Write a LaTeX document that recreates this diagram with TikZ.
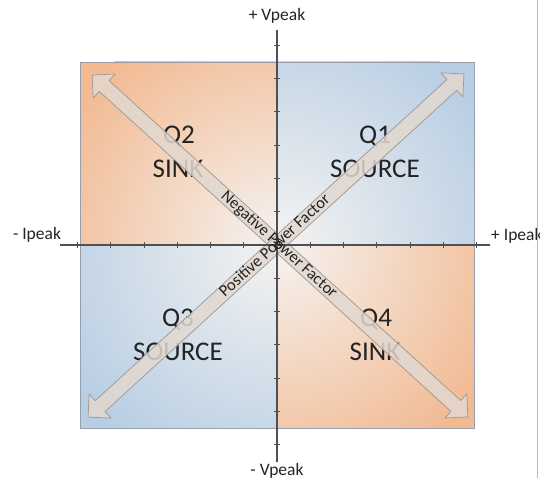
\documentclass[tikz,border=0pt]{standalone}
\usepackage{fontspec}
\setmainfont{Carlito}
\definecolor{qorange}{RGB}{242,186,146}
\definecolor{qblue}{RGB}{184,206,228}
\definecolor{qcenter}{RGB}{245,243,241}
\definecolor{arrfill}{RGB}{226,216,208}
\definecolor{arrline}{RGB}{158,150,144}
\definecolor{axiscol}{RGB}{80,80,84}
\definecolor{txtcol}{RGB}{35,35,35}
\definecolor{boxcol}{RGB}{150,160,172}
\begin{document}
\begin{tikzpicture}[x=1pt,y=1pt,
  boxline/.style={draw=boxcol, line width=0.8pt},
  bigarrow/.style={fill=arrfill, fill opacity=0.85, draw=arrline, line width=0.7pt, line join=round},
  axisline/.style={draw=axiscol, line width=1.3pt},
  tickline/.style={draw=axiscol, line width=0.9pt},
  qlabel/.style={text=txtcol, font=\fontsize{27}{29}\selectfont, inner sep=0pt},
  axlabel/.style={text=txtcol, font=\fontsize{17.5}{19}\selectfont, inner sep=0pt},
  arrtext/.style={text=txtcol, font=\fontsize{16.5}{18}\selectfont, inner sep=0pt}]
\useasboundingbox (0,0) rectangle (540,478);
\fill[white] (0,0) rectangle (540,478);
\coordinate (O) at (277,233);
% quadrant shadings
\begin{scope}
\clip (277,233) rectangle (474,416);
\fill[qblue] (277,233) rectangle (474,416);
\shade[inner color=qcenter, outer color=qblue] (O) circle (245);
\end{scope}
\begin{scope}
\clip (80,233) rectangle (277,416);
\fill[qorange] (80,233) rectangle (277,416);
\shade[inner color=qcenter, outer color=qorange] (O) circle (245);
\end{scope}
\begin{scope}
\clip (80,50) rectangle (277,233);
\fill[qblue] (80,50) rectangle (277,233);
\shade[inner color=qcenter, outer color=qblue] (O) circle (245);
\end{scope}
\begin{scope}
\clip (277,50) rectangle (474,233);
\fill[qorange] (277,50) rectangle (474,233);
\shade[inner color=qcenter, outer color=qorange] (O) circle (245);
\end{scope}
\draw[boxline] (80,50) rectangle (474,416);
% quadrant labels
\node[qlabel] (q1) at (375,341) {Q1};
\node[qlabel] (q1s) at (375,309) {SOURCE};
\node[qlabel] (q2) at (179,341) {Q2};
\node[qlabel] (q2s) at (178,309) {SINK};
\node[qlabel] (q3) at (178,158) {Q3};
\node[qlabel] (q3s) at (178,126) {SOURCE};
\node[qlabel] (q4) at (376,158) {Q4};
\node[qlabel] (q4s) at (375,126) {SINK};
% big double arrows
\path[bigarrow, shift={(280,232)}, rotate=-42.3]
  (254,0) -- (237.7,16.3) -- (237.7,7.3) -- (-237.7,7.3) -- (-237.7,16.3) -- (-254,0)
  -- (-237.7,-16.3) -- (-237.7,-7.3) -- (237.7,-7.3) -- (237.7,-16.3) -- cycle;
\path[bigarrow, shift={(276,232.5)}, rotate=42.4]
  (254.5,0) -- (238.2,16.3) -- (238.2,7.3) -- (-238.2,7.3) -- (-238.2,16.3) -- (-254.5,0)
  -- (-238.2,-16.3) -- (-238.2,-7.3) -- (238.2,-7.3) -- (238.2,-16.3) -- cycle;
% axes
\coordinate (xl) at (60,233);
\coordinate (xr) at (490,233);
\coordinate (yt) at (277,448);
\coordinate (yb) at (277,16);
\draw[axisline] (xl) -- (xr);
\draw[axisline] (yt) -- (yb);
\foreach \k in {-6,-5,-4,-3,-2,-1,1,2,3,4,5,6} {
  \draw[tickline] (277+\k*33.25,230) -- (277+\k*33.25,236);
  \draw[tickline] (274,233+\k*33.3) -- (280,233+\k*33.3);
}
% axis labels
\node[axlabel] (vp) at (277,462) {+ Vpeak};
\node[axlabel] (vm) at (277,7) {- Vpeak};
\node[axlabel] (im) at (37,243) {- Ipeak};
\node[axlabel, anchor=west] (ip) at (491,242) {+ Ipeak};
% arrow texts
\node[arrtext, rotate=-42.3] (neg) at (279,233) {Negative Power Factor};
\node[arrtext, rotate=42.4] (pos) at (274,233) {Positive Power Factor};
% right edge line
\draw[gray!55, line width=1pt] (537,0) -- (537,478);
\end{tikzpicture}
\end{document}
